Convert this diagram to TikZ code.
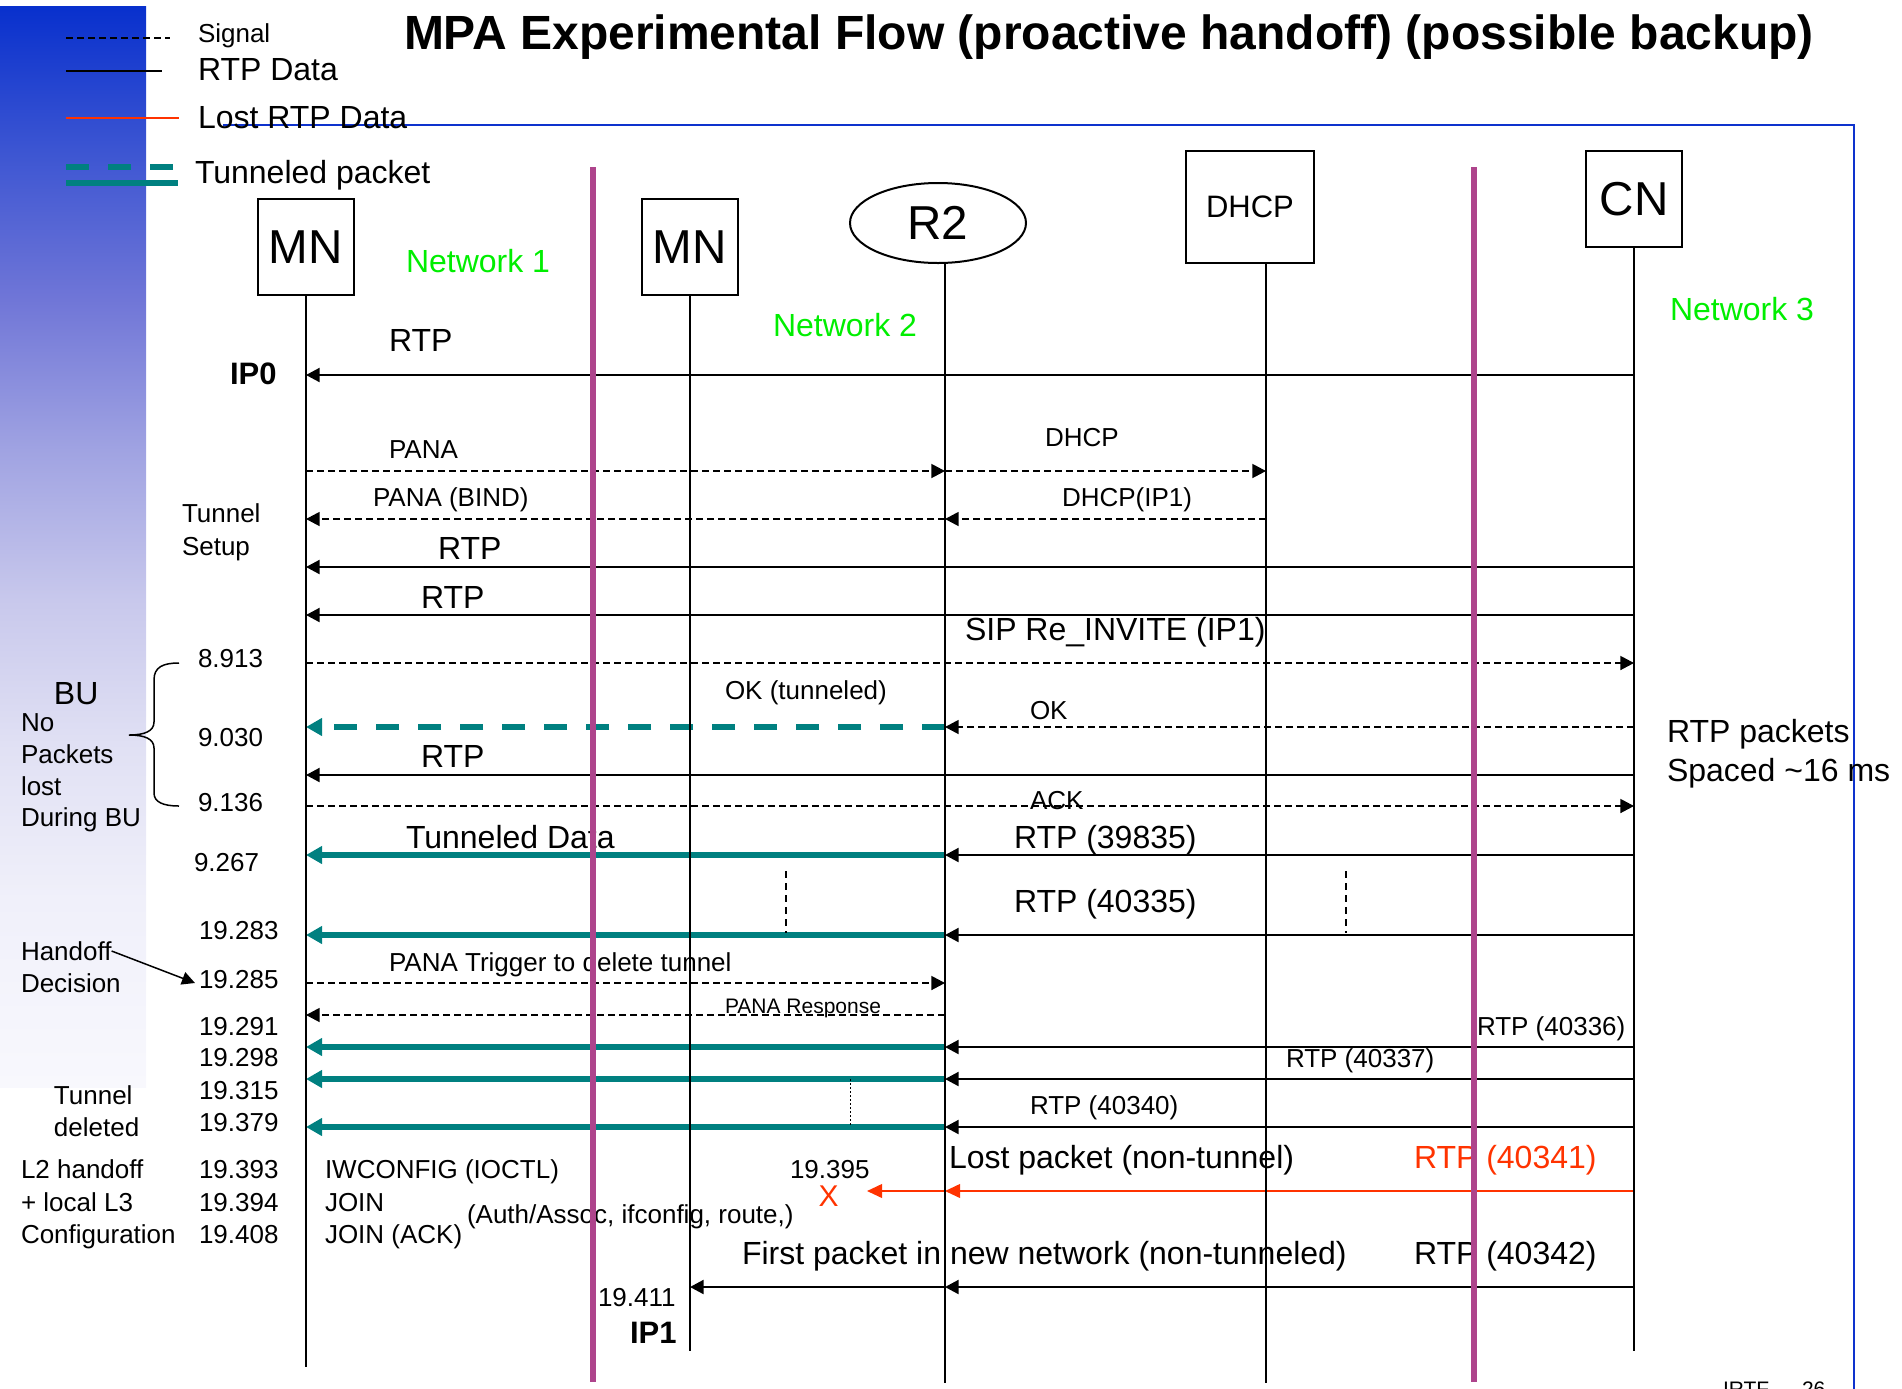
\documentclass[tikz,border=0pt]{standalone}
\usepackage{fontspec}
\setmainfont{Liberation Sans}
\usetikzlibrary{arrows.meta,shapes.geometric}

\definecolor{frameblue}{RGB}{14,50,205}
\definecolor{netgreen}{RGB}{0,238,0}
\definecolor{tunnelteal}{RGB}{0,128,128}
\definecolor{lossred}{RGB}{255,51,0}
\definecolor{netborder}{RGB}{174,68,140}
\definecolor{fadeA}{RGB}{8,48,205}
\definecolor{fadeB}{RGB}{60,85,210}
\definecolor{fadeC}{RGB}{112,118,215}
\definecolor{fadeD}{RGB}{160,163,226}
\definecolor{fadeE}{RGB}{200,200,236}
\definecolor{fadeF}{RGB}{225,225,244}
\definecolor{fadeG}{RGB}{240,240,250}
\definecolor{fadeH}{RGB}{248,248,253}

% side band: deep blue at the top fading to white
\pgfdeclareverticalshading{sidefade}{100bp}{
  color(0bp)=(fadeH); color(25bp)=(fadeH); color(33.65bp)=(fadeG);
  color(40.59bp)=(fadeF); color(47.53bp)=(fadeE); color(54.46bp)=(fadeD);
  color(61.40bp)=(fadeC); color(68.34bp)=(fadeB); color(75bp)=(fadeA);
  color(100bp)=(fadeA)}

\tikzset{
  txt/.style={inner sep=0pt, outer sep=0pt, anchor=west, text depth=0pt},
  big/.style={txt, font=\fontsize{16}{19}\selectfont, text height=11.5pt},
  small/.style={txt, font=\fontsize{13}{15.6}\selectfont, text height=9.3pt},
  tiny/.style={txt, font=\fontsize{10.5}{12.6}\selectfont, text height=7.5pt},
  addr/.style={txt, font=\fontsize{15.5}{18.6}\selectfont\bfseries, text height=11.2pt},
  net/.style={big, text=netgreen},
  entity/.style={draw, line width=1pt, inner sep=0pt, font=\fontsize{23.8}{28}\selectfont},
  life/.style={line width=0.75pt},
  rtp/.style={line width=1pt, -{Triangle[length=6.8pt,width=7pt]}},
  sig/.style={line width=0.75pt, dash pattern=on 3.3pt off 2.2pt, -{Triangle[length=6.8pt,width=7pt]}},
  tun/.style={line width=2.75pt, tunnelteal, -{Triangle[length=8pt,width=8.5pt]}},
  tundash/.style={tun, dash pattern=on 11.5pt off 9.5pt},
  lost/.style={line width=1pt, lossred, -{Triangle[length=7.5pt,width=6.8pt]}},
  netline/.style={line width=2.8pt, netborder},
  gapmark/.style={line width=0.7pt, dash pattern=on 3.5pt off 2.5pt},
  note/.style={line width=0.75pt, -{Triangle[length=6.5pt,width=6.5pt]}},
}

\begin{document}
\begin{tikzpicture}[x=0.5pt,y=-0.5pt]
\useasboundingbox (0,0) rectangle (1902,1388);
\clip (0,0) rectangle (1902,1388);

% side band and frame
\shade[shading=sidefade] (0,6) rectangle (146,1087);
\draw[frameblue, line width=1pt] (223,125) -- (1854,125) -- (1854,1400);

% title
\node[txt, font=\fontsize{24}{29}\selectfont\bfseries, text height=17.2pt] (title) at (404,32)
  {MPA Experimental Flow (proactive handoff) (possible backup)};

% legend
\draw[line width=0.75pt, dash pattern=on 3.3pt off 2.2pt] (66,38) -- (170,38);
\draw[line width=1pt] (66,71) -- (162,71);
\draw[line width=1pt, lossred] (66,118) -- (179,118);
\draw[line width=2.75pt, tunnelteal, dash pattern=on 11.5pt off 9.5pt] (66,167) -- (175,167);
\draw[line width=2.75pt, tunnelteal] (66,183) -- (178,183);
\node[small] (lgSignal) at (198,33) {Signal};
\node[big] (lgRtp) at (198,69) {RTP Data};
\node[big] (lgLost) at (198,117) {Lost RTP Data};
\node[big] (lgTun) at (195,172) {Tunneled packet};

% entities
\node[entity, minimum width=48pt, minimum height=48pt] (mn1) at (306,247) {MN};
\node[entity, minimum width=48pt, minimum height=48pt] (mn2) at (690,247) {MN};
\node[entity, ellipse, minimum width=88pt, minimum height=40pt] (r2) at (938,223) {R2};
\node[entity, minimum width=64pt, minimum height=56pt, font=\fontsize{15.5}{18}\selectfont] (dhcp) at (1250,207) {DHCP};
\node[entity, minimum width=48pt, minimum height=48pt] (cn) at (1634,199) {CN};

\coordinate (mn1x) at (mn1.south);
\coordinate (mn2x) at (mn2.south);
\coordinate (r2x) at ([xshift=3.5pt]r2.south);
\coordinate (dhcpx) at ([xshift=8pt]dhcp.south);
\coordinate (cnx) at (cn.south);

% network names
\node[net] (net1) at (406,261) {Network 1};
\node[net] (net2) at (773,325) {Network 2};
\node[net] (net3) at (1670,309) {Network 3};

% left-hand annotations
\node[addr] (ip0) at (230,373) {IP0};
\node[small] (tsA) at (182,513) {Tunnel};
\node[small] (tsB) at (182,546) {Setup};
\node[big] (bu) at (54,693) {BU};
\node[small] (buA) at (21,722) {No};
\node[small] (buB) at (21,754) {Packets};
\node[small] (buC) at (21,786) {lost};
\node[small] (buD) at (21,817) {During BU};
\node[small] (hdoff) at (21,951) {Handoff};
\node[small] (hdec) at (21,983) {Decision};
\node[small] (tdA) at (54,1095) {Tunnel};
\node[small] (tdB) at (54,1127) {deleted};
\node[small] (l2A) at (21,1169) {L2 handoff};
\node[small] (l2B) at (21,1202) {+ local L3};
\node[small] (l2C) at (21,1234) {Configuration};

% timestamps
\node[small] (t8913) at (198,658) {8.913};
\node[small] (t9030) at (198,737) {9.030};
\node[small] (t9136) at (198,802) {9.136};
\node[small] (t9267) at (194,862) {9.267};
\node[small] (t19283) at (199,930) {19.283};
\node[small] (t19285) at (199,979) {19.285};
\node[small] (t19291) at (199,1026) {19.291};
\node[small] (t19298) at (199,1057) {19.298};
\node[small] (t19315) at (199,1090) {19.315};
\node[small] (t19379) at (199,1122) {19.379};
\node[small] (t19393) at (199,1169) {19.393};
\node[small] (t19394) at (199,1202) {19.394};
\node[small] (t19408) at (199,1234) {19.408};

% message labels
\node[big] (mRtpA) at (389,340) {RTP};
\node[small] (mPana) at (389,449) {PANA};
\node[small] (mDhcp) at (1045,437) {DHCP};
\node[small] (mBind) at (373,497) {PANA (BIND)};
\node[small] (mDhcpIp) at (1062,497) {DHCP(IP1)};
\node[big] (mRtpB) at (438,548) {RTP};
\node[big] (mRtpC) at (421,597) {RTP};
\node[big] (mSip) at (965,629) {SIP Re\_INVITE (IP1)};
\node[small] (mOkTun) at (725,690) {OK (tunneled)};
\node[small] (mOk) at (1030,710) {OK};
\node[big] (mRtpD) at (421,756) {RTP};
\node[small] (mAck) at (1030,800) {ACK};
\node[big] (mTunData) at (406,837) {Tunneled Data};
\node[big] (m39835) at (1014,837) {RTP (39835)};
\node[big] (m40335) at (1014,901) {RTP (40335)};
\node[small] (mTrig) at (389,962) {PANA Trigger to delete tunnel};
\node[tiny] (mResp) at (725,1006) {PANA Response};
\node[small] (m40336) at (1477,1026) {RTP (40336)};
\node[small] (m40337) at (1286,1058) {RTP (40337)};
\node[small] (m40340) at (1030,1105) {RTP (40340)};
\node[big] (mLost) at (949,1157) {Lost packet (non-tunnel)};
\node[big, text=lossred] (m40341) at (1414,1157) {RTP (40341)};
\node[small] (t19395) at (790,1169) {19.395};
\node[txt, font=\fontsize{15}{18}\selectfont, text height=10.7pt, anchor=center, text=lossred] (lossX) at (828.5,1196) {X};
\node[small] (iwA) at (325,1169) {IWCONFIG (IOCTL)};
\node[small] (iwB) at (325,1202) {JOIN};
\node[small] (iwC) at (325,1234) {JOIN (ACK)};
\node[small] (iwD) at (467,1214) {(Auth/Assoc, ifconfig, route,)};
\node[big] (mFirst) at (742,1253) {First packet in new network (non-tunneled)};
\node[big] (m40342) at (1414,1253) {RTP (40342)};
\node[small] (t19411) at (598,1297) {19.411};
\node[addr] (ip1) at (630,1332) {IP1};
\node[big] (spA) at (1667,731) {RTP packets};
\node[big] (spB) at (1667,770) {Spaced \textasciitilde16 ms};
\node[tiny, anchor=base west] (irtf) at (1723,1396) {IRTF};
\node[tiny, anchor=base west] (slideno) at (1802,1396) {26};

% messages
\draw[rtp] (cnx |- 0,375) -- (mn1x |- 0,375);
\draw[sig] (mn1x |- 0,471) -- (r2x |- 0,471);
\draw[sig] (r2x |- 0,471) -- (dhcpx |- 0,471);
\draw[sig] (dhcpx |- 0,519) -- (r2x |- 0,519);
\draw[sig] (r2x |- 0,519) -- (mn1x |- 0,519);
\draw[rtp] (cnx |- 0,567) -- (mn1x |- 0,567);
\draw[rtp] (cnx |- 0,615) -- (mn1x |- 0,615);
\draw[sig] (mn1x |- 0,663) -- (cnx |- 0,663);
\draw[sig] (cnx |- 0,727) -- (r2x |- 0,727);
\draw[tundash] (r2x |- 0,727) -- (mn1x |- 0,727);
\draw[rtp] (cnx |- 0,775) -- (mn1x |- 0,775);
\draw[sig] (mn1x |- 0,806) -- (cnx |- 0,806);
\draw[rtp] (cnx |- 0,855) -- (r2x |- 0,855);
\draw[tun] (r2x |- 0,855) -- (mn1x |- 0,855);
\draw[rtp] (cnx |- 0,935) -- (r2x |- 0,935);
\draw[tun] (r2x |- 0,935) -- (mn1x |- 0,935);
\draw[sig] (mn1x |- 0,983) -- (r2x |- 0,983);
\draw[sig] (r2x |- 0,1015) -- (mn1x |- 0,1015);
\draw[rtp] (cnx |- 0,1047) -- (r2x |- 0,1047);
\draw[tun] (r2x |- 0,1047) -- (mn1x |- 0,1047);
\draw[rtp] (cnx |- 0,1079) -- (r2x |- 0,1079);
\draw[tun] (r2x |- 0,1079) -- (mn1x |- 0,1079);
\draw[rtp] (cnx |- 0,1127) -- (r2x |- 0,1127);
\draw[tun] (r2x |- 0,1127) -- (mn1x |- 0,1127);
\coordinate (lossEnd) at (867,1191);
\draw[lost] (cnx |- lossEnd) -- (r2x |- lossEnd);
\draw[lost] (r2x |- lossEnd) -- (lossEnd);
\draw[rtp] (cnx |- 0,1287) -- (r2x |- 0,1287);
\draw[rtp] (r2x |- 0,1287) -- (mn2x |- 0,1287);

% skipped-packet marks
\draw[gapmark] (786,871) -- (786,933);
\draw[gapmark] (1346,871) -- (1346,933);
\draw[line width=0.5pt, dash pattern=on 1pt off 1pt] (850,1079) -- (850,1125);

% handoff decision pointer
\draw[note] (hdoff.east) -- ([xshift=-2pt,yshift=-2pt]t19285.west);

% brace grouping the binding update
\draw[line width=0.75pt] (179,663) .. controls (163,663) and (154,667) .. (154,680)
  -- (154,722) .. controls (154,731) and (145,735) .. (129,735)
  .. controls (145,735) and (154,739) .. (154,748)
  -- (154,793) .. controls (154,802) and (163,806) .. (179,806);

% lifelines
\draw[life] (mn1x) -- (mn1x |- 0,1367);
\draw[life] (mn2x) -- (mn2x |- 0,1351);
\draw[life] (r2x) -- (r2x |- 0,1383);
\draw[life] (dhcpx) -- (dhcpx |- 0,1383);
\draw[life] (cnx) -- (cnx |- 0,1351);

% network boundaries
\draw[netline] (593,167) -- (593,1382);
\draw[netline] (1474,167) -- (1474,1382);
\end{tikzpicture}
\end{document}
